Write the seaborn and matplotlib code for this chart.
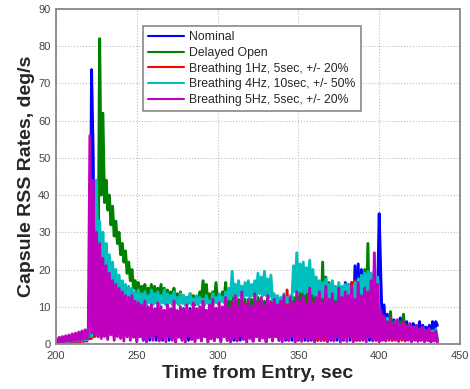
import numpy as np
import pandas as pd
import matplotlib
matplotlib.use("Agg")
import matplotlib.pyplot as plt
import seaborn as sns

# ---- data (1-second samples, t = 200 ... 436 s) ----
t_start, t_end = 200, 436
series_names = ["Nominal", "Delayed Open", "Breathing 1Hz, 5sec, +/- 20%",
                "Breathing 4Hz, 10sec, +/- 50%", "Breathing 5Hz, 5sec, +/- 20%"]
series_colors = ["#0000ff", "#008000", "#ff0000", "#00bfbf", "#bf00bf"]

nominal = [
    0.7, 0.2, 0.9, 0.3, 1.0, 0.3, 1.1, 0.4, 1.2, 0.4,
    1.4, 0.5, 1.5, 0.5, 1.7, 0.6, 1.9, 0.7, 2.1, 0.8,
    2.4, 1.5, 73.7, 51, 3, 28, 3, 22, 2, 19,
    3, 17, 2, 15, 3, 14, 2, 13, 3, 12,
    2, 11.5, 3, 11, 2, 10.5, 3, 10, 2, 10.5,
    1, 9.5, 2, 9, 1, 9.5, 2, 9, 1, 9.5,
    2, 9, 1, 9.5, 2, 8.5, 1, 9, 2, 9.5,
    1, 9, 2, 9.5, 1, 8.5, 2, 9, 1, 9.5,
    2, 9, 1, 9.5, 2, 9, 1, 8.5, 2, 9,
    1, 9.5, 2, 9, 1, 9.5, 2, 9, 1, 9.5,
    2, 9, 1, 9.5, 2, 9, 1, 9.5, 2, 9,
    1, 9.5, 2, 9, 1, 9.5, 2, 9, 1, 9.5,
    2, 9, 1, 9.5, 2, 9, 1, 9.5, 2, 9,
    1, 9.5, 2, 9, 1, 9.5, 2, 9, 1, 9.5,
    2, 9, 1, 9.5, 2, 9, 1, 9.5, 2, 9,
    1, 9.5, 2, 9, 1, 9.5, 2, 9, 1, 9.5,
    2, 9, 1, 9.5, 2, 9, 1, 9.5, 2, 10,
    1, 10, 2, 10.5, 1, 11, 2, 12, 1, 16.5,
    2, 16, 1, 16.5, 2, 21, 1, 21.5, 2, 20,
    1, 17, 2, 16, 1, 15, 2, 14, 1, 13,
    35, 18, 3, 10.5, 2, 8, 3, 7, 2, 6.5,
    2, 6, 3, 7, 2, 5.5, 3, 6, 2, 5,
    3, 5.5, 2, 4.5, 3, 6, 2, 5, 3, 4.5,
    2, 5, 1, 6, 2, 6, 5,
]

delayed_open = [
    0.8, 0.3, 1.0, 0.4, 1.2, 0.4, 1.3, 0.5, 1.5, 0.5,
    1.7, 0.6, 1.9, 0.7, 2.1, 0.8, 2.3, 0.9, 2.5, 1.0,
    2.8, 1.5, 3.0, 2.0, 4.0, 6.0, 12, 82, 40, 62,
    38, 44, 36, 40, 32, 37, 29, 33, 27, 30,
    24, 27, 22, 25, 19, 22, 17, 20, 15, 17,
    13, 16.5, 12.5, 15.5, 13, 16, 12, 15, 12.5, 16,
    12, 15.5, 12, 15, 12.5, 16, 12, 15, 11.5, 14.5,
    11.5, 14, 12, 15, 11, 13.5, 11.5, 14, 11, 13,
    10.5, 12.5, 11, 13.5, 11, 13, 10.5, 12.5, 11, 14,
    12, 17, 12.5, 16, 11, 13.5, 11, 14, 12, 16.5,
    11, 13, 11.5, 14, 12, 16.5, 10, 12, 10, 12.5,
    5, 11, 6, 12, 5, 11.5, 6, 12, 5, 11,
    6, 12, 5, 11.5, 6, 12.5, 5, 12, 6, 11.5,
    5, 12, 6, 11.5, 5, 12.5, 6, 11, 5, 12,
    6, 11.5, 5, 12, 6, 11, 5, 12.5, 6, 13,
    5, 14, 6, 15, 5, 14.5, 6, 15, 5, 16,
    6, 15, 5, 16, 6, 22, 5, 18, 6, 16.5,
    5, 15, 6, 14.5, 5, 15, 6, 14, 5, 14.5,
    6, 15, 5, 14, 6, 15.5, 5, 16, 6, 18,
    5, 20, 6, 27, 5, 18, 6, 17, 5, 15,
    6, 8, 3, 7, 2, 6, 3, 8.7, 2, 6,
    3, 5, 2, 6, 3, 8, 2, 5, 3, 4.5,
    2, 4, 3, 5, 2, 3.5, 3, 4, 2, 3.5,
    2, 3, 1.5, 3.5, 1, 3, 1,
]

breathing_1hz = [
    0.6, 0.2, 0.8, 0.3, 0.9, 0.3, 1.0, 0.4, 1.1, 0.4,
    1.3, 0.5, 1.4, 0.5, 1.6, 0.6, 1.8, 0.7, 2.0, 0.8,
    2.2, 20, 1.5, 30, 2, 25, 2, 22, 2, 20,
    3, 18, 2, 16, 3, 15, 2, 14, 3, 13.5,
    2, 13, 3, 12.5, 2, 13, 3, 12.5, 2, 12,
    3, 8.5, 2, 9, 3, 8.5, 2, 8, 3, 8.5,
    2, 8, 3, 8.5, 2, 8, 3, 8.5, 2, 8,
    3, 8, 2, 8.5, 3, 8, 2, 8, 3, 8.5,
    2, 8, 3, 8, 2, 8.5, 3, 8, 2, 8,
    3, 8.5, 2, 8, 3, 8, 2, 9, 3, 8,
    2, 8.5, 3, 8, 2, 9, 3, 8.5, 2, 9,
    3, 9, 2, 9.5, 3, 9, 2, 9.5, 3, 9,
    2, 9.5, 3, 9, 2, 10, 3, 9, 2, 9.5,
    3, 9, 2, 9.5, 3, 9, 2, 10, 3, 9,
    2, 9.5, 3, 14.5, 2, 9, 3, 9.5, 2, 9,
    3, 9.5, 2, 9, 3, 9.5, 2, 9, 3, 10,
    2, 7, 1, 8, 2, 9.5, 1, 7.5, 2, 10,
    3, 10, 2, 10.5, 3, 10, 2, 11, 3, 10,
    2, 14, 3, 16.5, 2, 17, 1, 8, 2, 7.5,
    3, 11, 2, 12, 3, 11, 2, 11.5, 3, 10,
    2, 6, 1, 5, 2, 4.5, 1, 5, 2, 4,
    1, 4.5, 2, 4, 1, 3.5, 2, 4, 1, 3.5,
    2, 3, 1, 3.5, 2, 3, 1, 3.5, 1, 3,
    1.5, 2.5, 1, 3, 1, 2.5, 1,
]

breathing_4hz = [
    1.0, 0.3, 1.2, 0.4, 1.4, 0.5, 1.5, 0.5, 1.7, 0.6,
    1.9, 0.7, 2.1, 0.8, 2.3, 0.9, 2.6, 1.0, 2.9, 1.1,
    3.2, 12, 2.0, 25, 3.0, 44, 20, 33, 22, 30,
    20, 27, 18, 24, 17, 22, 15, 20, 14, 18.5,
    13, 17, 12, 16, 11.5, 15.5, 11, 15, 10.5, 14,
    11, 14.5, 10.5, 13.5, 11, 14, 10.5, 13, 11, 14.5,
    10.5, 13.5, 11, 14, 10.5, 13, 11, 14.5, 10.5, 13.5,
    11, 13, 10.5, 14, 11, 12.5, 10.5, 13.5, 11, 13,
    10.5, 12.5, 11, 13.5, 10.5, 12, 11, 13, 10.5, 12.5,
    11, 12, 10.5, 13, 11, 11.5, 10.5, 13.5, 11, 12.5,
    11, 13.5, 11.5, 12.5, 11, 14, 12, 15, 12, 19.5,
    13, 16, 12.5, 17, 13, 15.5, 12.5, 16.5, 13, 17,
    12.5, 16, 13, 17, 13, 19, 13.5, 18, 13, 19.5,
    13, 17.5, 12.5, 18.5, 11.5, 13.5, 11, 13, 11, 12.5,
    11, 13.5, 11, 12.5, 11, 13, 12, 21, 14, 24.5,
    14, 21.5, 14, 22, 13.5, 20.5, 14, 22.5, 13.5, 20,
    13, 18, 12.5, 17, 12.5, 16.5, 12.5, 17.5, 12, 16,
    12, 17, 12, 15.5, 12, 16.5, 12, 15.5, 12, 16,
    12, 16, 12, 15.5, 12, 16.5, 12, 17.5, 12.5, 18.5,
    13, 19, 13, 19.5, 13, 19, 13, 19.5, 12.5, 18,
    5, 8, 3, 6.5, 2, 7, 3, 6, 2, 5.5,
    3, 6, 2, 5, 3, 5.5, 2, 4.5, 3, 5,
    2, 4.5, 3, 5, 2, 4, 3, 4.5, 2, 3.5,
    3, 4, 2, 3.5, 2, 4, 1.5,
]

breathing_5hz = [
    1.5, 0.4, 1.8, 0.5, 2.0, 0.6, 2.2, 0.8, 2.4, 0.7,
    2.7, 0.9, 2.9, 1.0, 3.2, 1.1, 3.5, 1.3, 3.8, 1.4,
    4.3, 56, 3.0, 44, 2.5, 30, 2.0, 27, 1.5, 23,
    2.0, 21, 1.2, 19, 2.5, 17, 1.0, 16, 2.0, 15,
    1.5, 14, 0.8, 13, 2.2, 12.5, 1.0, 13, 1.8, 11.5,
    0.6, 11, 2.0, 10.5, 1.2, 11.5, 0.5, 10, 1.8, 10.5,
    1.0, 9.5, 2.4, 11, 0.8, 10, 1.5, 9, 0.6, 10.5,
    2.0, 9.5, 1.0, 11.5, 0.5, 9, 1.8, 10, 1.1, 9.5,
    0.4, 10.5, 2.0, 9, 1.2, 11, 0.6, 9.5, 1.6, 10,
    0.8, 11.5, 2.2, 9, 0.5, 10.5, 1.4, 12, 0.9, 9.5,
    1.8, 11, 0.6, 10, 2.0, 12.5, 1.0, 9.5, 0.5, 11,
    1.6, 13, 0.8, 10, 2.2, 14, 1.2, 10.5, 0.4, 12,
    1.5, 10, 0.7, 13.5, 2.0, 11, 0.9, 12.5, 1.6, 10,
    0.5, 13, 1.8, 11, 0.8, 12, 2.2, 10.5, 1.0, 11.5,
    0.6, 13, 1.4, 10, 0.9, 12.5, 2.0, 11, 0.5, 14,
    1.2, 11.5, 0.7, 13, 1.9, 10.5, 0.8, 15, 1.3, 11,
    0.5, 12.5, 1.7, 14, 0.9, 11, 2.1, 15.5, 0.6, 12,
    1.4, 13.5, 0.8, 11, 1.9, 15, 0.5, 12.5, 1.2, 14,
    0.7, 13, 1.8, 15.5, 0.6, 12, 1.5, 16.5, 0.9, 13,
    1.2, 15, 0.6, 14, 1.8, 17, 0.8, 24.5, 1.0, 16,
    0.6, 9, 1.2, 7.5, 0.8, 6, 1.5, 7, 0.9, 5.5,
    1.3, 6.5, 0.7, 5, 1.4, 6, 0.8, 4.5, 1.2, 5.5,
    0.6, 4.5, 1.1, 5, 0.7, 4, 1.0, 4.5, 0.6, 3.5,
    0.9, 4, 0.5, 3, 0.8, 3.5, 0.4,
]

x_ticks = [200, 250, 300, 350, 400, 450]
y_ticks = [0, 10, 20, 30, 40, 50, 60, 70, 80, 90]

# ---- build long table ----
time = np.arange(t_start, t_end + 1)
frames = []
for name, vals in zip(series_names,
                      [nominal, delayed_open, breathing_1hz, breathing_4hz, breathing_5hz]):
    assert len(vals) == len(time), (name, len(vals))
    frames.append(pd.DataFrame({"time": time, "rate": vals, "case": name}))
df = pd.concat(frames, ignore_index=True)

# ---- style ----
sns.set_style("white")
plt.rcParams["font.family"] = ["Liberation Sans", "DejaVu Sans"]

fig = plt.figure(figsize=(4.7, 3.89), dpi=100)
ax = fig.add_axes([56 / 470, 1 - 344 / 389, 404 / 470, 335 / 389])

sns.lineplot(data=df, x="time", y="rate", hue="case", hue_order=series_names,
             palette=series_colors, estimator=None, sort=False, linewidth=2.1,
             ax=ax)

ax.set_xlim(200, 450)
ax.set_ylim(0, 90)
ax.set_xticks(x_ticks)
ax.set_yticks(y_ticks)
ax.grid(True, linestyle=":", color="#bdbdbd", linewidth=0.8)
ax.set_axisbelow(True)
ax.tick_params(direction="in", length=3, width=0.8, colors="#555555",
               labelsize=8, labelcolor="#444444")
ax.tick_params(axis="x", pad=5)
ax.tick_params(axis="y", pad=4)
for sp in ax.spines.values():
    sp.set_color("#888888")
    sp.set_linewidth(1.3)

ax.set_xlabel("Time from Entry, sec", fontsize=14, fontweight="bold", labelpad=3)
ax.set_ylabel("Capsule RSS Rates, deg/s", fontsize=14, fontweight="bold", labelpad=2)

handles, labels = ax.get_legend_handles_labels()
leg = ax.legend(handles, labels, loc="upper left", bbox_to_anchor=(0.215, 0.95),
                borderaxespad=0, fontsize=8.8, frameon=True, fancybox=False,
                edgecolor="#888888", handlelength=2.9, handletextpad=0.4,
                labelspacing=0.3, borderpad=0.45, framealpha=1)
leg.get_frame().set_linewidth(1.2)
for ln in leg.get_lines():
    ln.set_linewidth(1.5)

fig.savefig("out.png", dpi=100)
